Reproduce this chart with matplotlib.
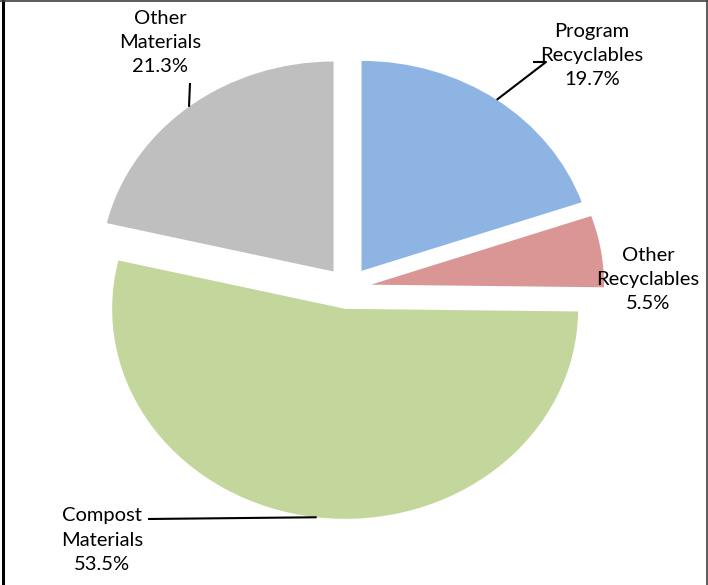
import numpy as np
import matplotlib
matplotlib.use("Agg")
import matplotlib.pyplot as plt

# Data
labels = ['Program\nRecyclables', 'Other\nRecyclables', 'Compost\nMaterials', 'Other\nMaterials']
values = [19.7, 5.5, 53.5, 21.3]
colors = ['#8EB4E3', '#D99694', '#C3D69B', '#BFBFBF']

W, H = 708, 585
cx, cy = 348, 288      # pie centre in pixels
rx, ry = 233, 210      # pixel size of one data unit

fig = plt.figure(figsize=(W / 100, H / 100), dpi=100)
ax = fig.add_axes([0, 0, 1, 1])

wedges, _ = ax.pie(values, startangle=90, counterclock=False,
                   explode=[0.1] * len(values), colors=colors,
                   wedgeprops=dict(linewidth=0))
ax.set_aspect('auto')
ax.set_xlim(-cx / rx, (W - cx) / rx)
ax.set_ylim((cy - H) / ry, cy / ry)
ax.axis('off')


def px(x, y):
    # pixel position -> data coords
    return (x - cx) / rx, (cy - y) / ry


def edge_point(w):
    mid = np.deg2rad((w.theta1 + w.theta2) / 2)
    ox, oy = w.center
    return ox + w.r * np.cos(mid), oy + w.r * np.sin(mid)


font = dict(family='Lato', fontsize=14.5, ha='center', va='center',
            linespacing=1.5, color='black')

# label positions (pixels) and leader line knees
text_pos = [(592, 56), (648, 280), (102, 540), (160, 42)]
leaders = [[(546, 62), (533, 62)], None, [(148, 519)], [(190, 83)]]

for w, lab, val, tp, ld in zip(wedges, labels, values, text_pos, leaders):
    ax.text(*px(*tp), f'{lab}\n{val:.1f}%', **font)
    if ld is None:
        continue
    ex, ey = edge_point(w)
    pts = [px(*p) for p in ld][::-1] + [(ex, ey)]
    ax.plot([p[0] for p in pts], [p[1] for p in pts], color='black', lw=1.5,
            solid_capstyle='butt')

# outer frame
fig.add_artist(plt.Line2D([0.004, 0.004], [0, 1], transform=fig.transFigure, color='black', lw=2.2))
fig.add_artist(plt.Line2D([0, 1], [0.998, 0.998], transform=fig.transFigure, color='#404040', lw=1.2))
fig.add_artist(plt.Line2D([0.998, 0.998], [0, 1], transform=fig.transFigure, color='#404040', lw=1.2))

fig.savefig('out.png', dpi=100)
